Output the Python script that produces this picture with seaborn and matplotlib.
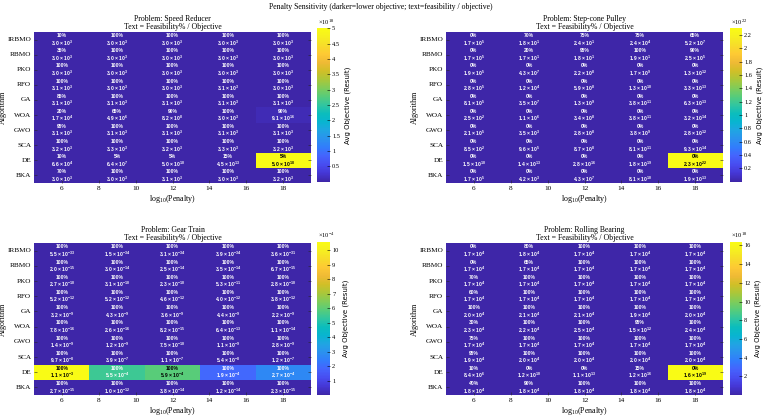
import numpy as np
import pandas as pd
import matplotlib
matplotlib.use("Agg")
import matplotlib.pyplot as plt
import seaborn as sns
from matplotlib.colors import LinearSegmentedColormap
from matplotlib.ticker import FuncFormatter

# ---------------- data ----------------
algorithms = ["IRBMO", "RBMO", "PKO", "RFO", "GA", "WOA", "GWO", "SCA", "DE", "BKA"]
penalty_log = [6, 9, 12, 15, 18]
xtick_values = [6, 8, 10, 12, 14, 16, 18]

sr_feas = [[10, 100, 100, 100, 100], [35, 100, 100, 100, 100], [100, 100, 100, 100, 100],
           [100, 100, 100, 100, 100], [85, 100, 100, 100, 100], [20, 65, 90, 100, 90],
           [95, 100, 100, 100, 100], [100, 100, 100, 100, 100], [10, 5, 5, 15, 5],
           [70, 100, 100, 100, 100]]
sr_obj = [[3.0e3, 3.0e3, 3.0e3, 3.0e3, 3.0e3], [3.0e3, 3.0e3, 3.0e3, 3.0e3, 3.0e3],
          [3.0e3, 3.0e3, 3.0e3, 3.0e3, 3.0e3], [3.1e3, 3.0e3, 3.0e3, 3.1e3, 3.0e3],
          [3.1e3, 3.1e3, 3.1e3, 3.1e3, 3.1e3], [1.7e4, 4.9e6, 8.2e8, 3.0e3, 9.1e16],
          [3.1e3, 3.1e3, 3.1e3, 3.1e3, 3.1e3], [3.2e3, 3.3e3, 3.2e3, 3.3e3, 3.2e3],
          [6.6e4, 6.4e7, 5.0e10, 4.5e13, 5.0e18], [3.0e3, 3.0e3, 3.1e3, 3.0e3, 3.2e3]]

sc_feas = [[0, 70, 75, 75, 65], [0, 20, 95, 100, 90], [0, 0, 0, 0, 0], [0, 0, 0, 0, 0],
           [0, 0, 0, 0, 0], [0, 0, 0, 0, 0], [0, 0, 0, 0, 0], [0, 0, 0, 0, 0],
           [0, 0, 0, 0, 0], [0, 0, 0, 0, 0]]
sc_obj = [[1.7e5, 1.8e1, 2.4e1, 2.4e4, 5.2e7], [1.7e5, 1.7e1, 1.8e1, 1.9e1, 2.5e5],
          [1.9e5, 4.3e7, 2.2e8, 1.7e9, 1.3e12], [2.8e5, 1.2e4, 5.9e8, 1.3e10, 3.3e13],
          [8.1e5, 3.5e7, 1.3e9, 3.8e11, 6.3e13], [2.5e2, 1.1e6, 3.4e8, 3.8e11, 3.2e14],
          [2.1e5, 3.5e3, 2.8e8, 3.8e9, 2.8e12], [8.5e2, 9.6e5, 8.7e8, 8.1e11, 9.3e14],
          [1.5e10, 1.4e13, 2.8e16, 1.8e19, 2.3e22], [1.7e5, 4.2e3, 4.3e7, 8.1e10, 1.9e13]]

gt_feas = [[100, 100, 100, 100, 100] for _ in range(10)]
gt_obj = [[5.5e-33, 1.5e-34, 3.1e-34, 3.9e-34, 3.6e-31], [2.0e-15, 3.0e-14, 2.5e-14, 3.5e-14, 6.7e-15],
          [2.7e-10, 3.1e-10, 2.3e-10, 5.3e-11, 2.8e-10], [5.2e-12, 5.2e-12, 4.6e-12, 4.0e-12, 3.8e-12],
          [3.2e-9, 4.3e-9, 3.6e-9, 4.4e-9, 2.2e-9], [7.8e-16, 2.6e-16, 8.2e-15, 6.4e-13, 1.1e-14],
          [1.4e-9, 1.2e-9, 7.5e-10, 1.1e-9, 2.8e-9], [9.7e-8, 3.9e-7, 1.1e-7, 5.4e-8, 1.2e-7],
          [1.06e-3, 5.5e-4, 5.9e-4, 1.9e-4, 2.7e-4], [2.7e-15, 1.0e-12, 3.8e-14, 1.2e-14, 2.3e-15]]

rb_feas = [[0, 80, 100, 100, 100], [0, 65, 100, 100, 100], [70, 100, 100, 100, 100],
           [60, 100, 100, 100, 100], [100, 100, 100, 100, 100], [30, 100, 100, 95, 100],
           [75, 100, 100, 100, 100], [95, 100, 100, 100, 100], [10, 0, 0, 15, 0],
           [40, 90, 100, 100, 100]]
rb_obj = [[1.7e4, 1.8e4, 1.7e4, 1.7e4, 1.7e4], [1.7e4, 1.7e4, 1.7e4, 1.7e4, 1.7e4],
          [1.7e4, 1.7e4, 1.7e4, 1.7e4, 1.7e4], [1.7e4, 1.7e4, 1.7e4, 1.7e4, 1.7e4],
          [2.0e4, 2.1e4, 2.1e4, 1.9e4, 2.0e4], [2.3e4, 2.2e4, 2.5e4, 1.5e12, 2.4e4],
          [1.7e4, 1.7e4, 1.7e4, 1.7e4, 1.7e4], [1.9e4, 2.0e4, 2.0e4, 2.0e4, 2.0e4],
          [8.4e6, 1.2e10, 1.1e13, 1.2e16, 1.64e19], [1.8e4, 1.8e4, 1.8e4, 1.8e4, 1.8e4]]

problems = ["Speed Reducer", "Step-cone Pulley", "Gear Train", "Rolling Bearing"]

# ---------------- style ----------------
parula_pts = [
    (0.2422, 0.1504, 0.6603), (0.2706, 0.2147, 0.8364), (0.2813, 0.3006, 0.9414),
    (0.2699, 0.3892, 0.9906), (0.1963, 0.4847, 0.9892), (0.1687, 0.5703, 0.9359),
    (0.1248, 0.6459, 0.8883), (0.0297, 0.7082, 0.8163), (0.0433, 0.7411, 0.7394),
    (0.1938, 0.7758, 0.6251), (0.3406, 0.8008, 0.4789), (0.5044, 0.7993, 0.3480),
    (0.6720, 0.7793, 0.2227), (0.8203, 0.7498, 0.1535), (0.9393, 0.7288, 0.2100),
    (0.9952, 0.7893, 0.2028), (0.9676, 0.8639, 0.1643), (0.9628, 0.9373, 0.1265),
    (0.9769, 0.9839, 0.0805)]
parula = LinearSegmentedColormap.from_list("parula", parula_pts, N=256)

plt.rcParams["mathtext.fontset"] = "custom"
plt.rcParams["mathtext.rm"] = "Liberation Serif"
plt.rcParams["mathtext.it"] = "Liberation Serif:italic"
plt.rcParams["mathtext.bf"] = "Liberation Sans:bold"
SERIF = "Liberation Serif"

fig = plt.figure(figsize=(7.66, 4.19), dpi=100)

W, H = 766.0, 419.0
layouts = [
    (34, 32, 311, 183, 317, 28.3, 330, 181.7),
    (446, 32, 723, 183, 730, 28.3, 742, 181.7),
    (34, 243, 311, 395, 317, 241.7, 330, 395),
    (446, 243, 723, 395, 730, 241.7, 742, 395),
]
cbar_ticks = [
    ([0.5, 1, 1.5, 2, 2.5, 3, 3.5, 4, 4.5, 5], 18),
    ([0.2, 0.4, 0.6, 0.8, 1, 1.2, 1.4, 1.6, 1.8, 2, 2.2], 22),
    ([1, 2, 3, 4, 5, 6, 7, 8, 9, 10], -4),
    ([2, 4, 6, 8, 10, 12, 14, 16], 18),
]


def fmt_obj(v):
    e = int(np.floor(np.log10(v)))
    m = v / 10 ** e
    if round(m, 1) >= 10:
        e += 1
        m = v / 10 ** e
    return f"{m:.1f} \u00d7 $\\mathbf{{10^{{{e}}}}}$"


datasets = [(sr_feas, sr_obj), (sc_feas, sc_obj), (gt_feas, gt_obj), (rb_feas, rb_obj)]

for k, (name, (feas, obj)) in enumerate(zip(problems, datasets)):
    l, t, r, b, cl, ct, cr, cb_ = layouts[k]
    ax = fig.add_axes([l / W, 1 - b / H, (r - l) / W, (b - t) / H])
    cax = fig.add_axes([cl / W, 1 - cb_ / H, (cr - cl) / W, (cb_ - ct) / H])
    df = pd.DataFrame(obj, index=algorithms, columns=penalty_log)
    vmin, vmax = df.values.min(), df.values.max()
    sns.heatmap(df, ax=ax, cmap=parula, vmin=vmin, vmax=vmax, cbar_ax=cax,
                xticklabels=False, yticklabels=algorithms)
    # texts
    for i in range(len(algorithms)):
        for j in range(len(penalty_log)):
            v = obj[i][j]
            nv = (v - vmin) / (vmax - vmin)
            col = "black" if nv > 0.53 else "white"
            ax.text(j + 0.5, i + 0.5 - 0.25, f"{feas[i][j]}%", ha="center", va="center",
                    fontsize=3.6, fontweight="bold", color=col, family="Liberation Sans")
            ax.text(j + 0.5, i + 0.5 + 0.24, fmt_obj(v), ha="center", va="center",
                    fontsize=3.6, fontweight="bold", color=col, family="Liberation Sans")
    # axes formatting
    ax.set_xticks([(v - 4.5) / 3 for v in xtick_values])
    ax.set_xticklabels([str(v) for v in xtick_values], fontsize=5.2, family=SERIF)
    ax.set_yticks([i + 0.5 for i in range(len(algorithms))])
    ax.set_yticklabels(algorithms, rotation=0, fontsize=5.2, family=SERIF)
    ax.tick_params(axis="both", length=2, width=0.4, pad=2, direction="in",
                   color="#262626", left=True, bottom=True, right=True, top=False)
    ax.set_xlabel("log$_{10}$(Penalty)", fontsize=5.8, family=SERIF)
    ax.xaxis.set_label_coords(0.5, -0.065)
    ax.set_ylabel("Algorithm", fontsize=5.8, family=SERIF)
    ax.yaxis.set_label_coords(-0.098, 0.5)
    ax.set_title(f"Problem: {name}\nText = Feasibility% / Objective", fontsize=5.6,
                 family=SERIF, pad=2, linespacing=1.1)
    # colorbar
    ticks, ex = cbar_ticks[k]
    scale = 10.0 ** ex
    cbar = ax.collections[0].colorbar
    cbar.set_ticks([tv * scale for tv in ticks])
    cbar.ax.yaxis.set_major_formatter(FuncFormatter(lambda x, p, s=scale: f"{x / s:g}"))
    cbar.ax.tick_params(labelsize=4.6, length=2, width=0.4, pad=1.5, direction="in")
    for lab in cbar.ax.get_yticklabels():
        lab.set_family(SERIF)
    cbar.ax.text(0.1, 1.01, f"\u00d710$^{{{ex}}}$", transform=cbar.ax.transAxes,
                 fontsize=4.6, family=SERIF, ha="left", va="bottom")
    cbar.set_label("Avg Objective (Result)", fontsize=5, labelpad=3)

fig.text(0.497, 0.984, "Penalty Sensitivity (darker=lower objective; text=feasibility / objective)",
         ha="center", va="center", fontsize=5.6, family=SERIF)

fig.savefig("out.png", dpi=100, facecolor="white")
